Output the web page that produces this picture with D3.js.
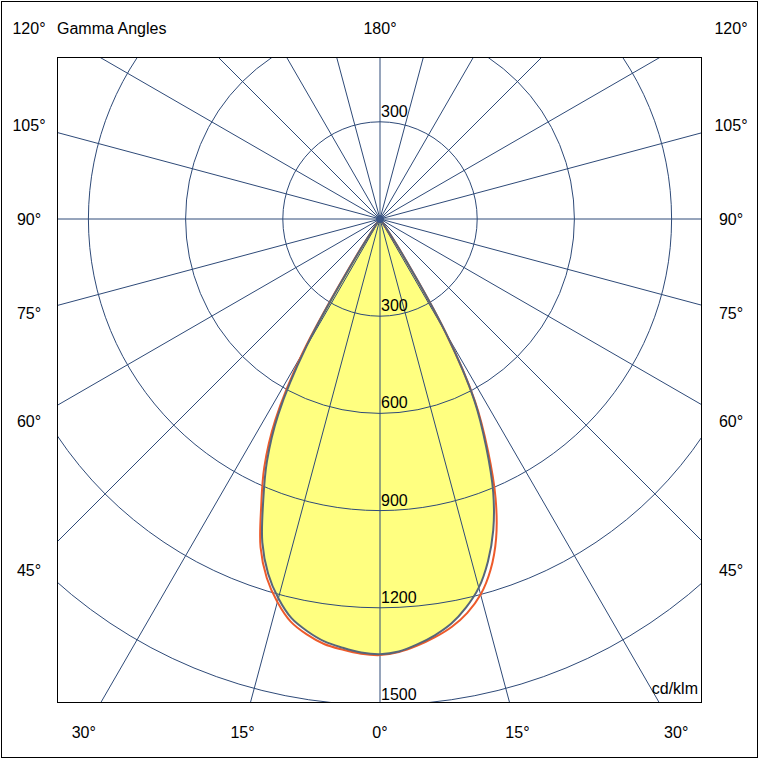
<!DOCTYPE html>
<html>
<head>
<meta charset="utf-8">
<script src="https://cdn.jsdelivr.net/npm/d3@7"></script>
<style>
	body { margin: 0; background: #fff; }
	text { font-family: "Liberation Sans", Arial, sans-serif; font-size: 16px; fill: #000; }
</style>
</head>
<body>
<svg id="chart"></svg>
<script>
// gamma angles (deg from nadir) and intensities in cd/klm per half-plane
const gammaAngles = [0, 2.5, 5, 7.5, 10, 12.5, 15, 17.5, 20, 22.5, 25, 27.5, 30, 32.5, 35, 37.5, 40, 45, 50, 60, 70, 80, 90];
const c0Values   = [1343, 1336, 1318, 1296, 1268, 1228, 1178, 1108, 1022, 913, 775, 630, 405, 120, 14, 4, 2, 1, 0, 0, 0, 0, 0];
const c180Values = [1343, 1339, 1328, 1315, 1292, 1262, 1212, 1148, 1062, 942, 826, 680, 455, 130, 14, 4, 2, 1, 0, 0, 0, 0, 0];
const c90Values  = [1345, 1338, 1322, 1302, 1278, 1245, 1200, 1135, 1048, 932, 788, 636, 408, 122, 14, 4, 2, 1, 0, 0, 0, 0, 0];
const c270Values = [1346, 1343, 1334, 1323, 1302, 1273, 1224, 1162, 1078, 958, 845, 700, 480, 150, 18, 5, 2, 1, 0, 0, 0, 0, 0];

const ringValues = [300, 600, 900, 1200, 1500, 1800];
const ringLabels = [300, 600, 900, 1200, 1500];
const spokeAngles = d3.range(0, 360, 15);
const sideLabelAngles = [0, 15, 30, 45, 60, 75, 90, 105, 120, 180];

function drawPolar(svgElement) {
	const W = 760, H = 761;
	const frame = { left: 57, top: 57, right: 702, bottom: 703 };
	const cx = 380, cy = 219;

	const r = d3.scaleLinear().domain([0, 1500]).range([0, 486]);
	const rad = d => d * Math.PI / 180;

	const svg = d3.select(svgElement)
		.attr("width", W)
		.attr("height", H);

	svg.append("rect")
		.attr("x", 1.5).attr("y", 1.5)
		.attr("width", 756).attr("height", 756)
		.attr("fill", "#fff")
		.attr("stroke", "#000");

	svg.append("clipPath")
		.attr("id", "frameClip")
		.append("rect")
		.attr("x", frame.left).attr("y", frame.top)
		.attr("width", frame.right - frame.left)
		.attr("height", frame.bottom - frame.top);

	const plot = svg.append("g").attr("clip-path", "url(#frameClip)");
	const g = plot.append("g").attr("transform", "translate(" + cx + "," + cy + ")");

	// build closed outline: left half (C180 / C270) then right half (C0 / C90)
	function outline(leftVals, rightVals) {
		const pts = [];
		for (let i = gammaAngles.length - 1; i >= 0; i--)
			pts.push([Math.PI + rad(gammaAngles[i]), r(leftVals[i])]);
		for (let i = 1; i < gammaAngles.length; i++)
			pts.push([Math.PI - rad(gammaAngles[i]), r(rightVals[i])]);
		return pts;
	}

	const radial = d3.lineRadial()
		.angle(d => d[0])
		.radius(d => d[1])
		.curve(d3.curveCatmullRom.alpha(0.5));

	const grayPts = outline(c180Values, c0Values);
	const orangePts = outline(c270Values, c90Values);

	g.append("path")
		.attr("d", radial(grayPts))
		.attr("fill", "#ffff80")
		.attr("stroke", "none");

	// grid
	g.selectAll(".ring")
		.data(ringValues)
		.enter().append("circle")
		.attr("r", d => r(d))
		.attr("fill", "none")
		.attr("stroke", "#2e4a78")
		.attr("stroke-width", 1);

	g.selectAll(".spoke")
		.data(spokeAngles)
		.enter().append("line")
		.attr("x1", 0).attr("y1", 0)
		.attr("x2", d => Math.sin(rad(d)) * 1000)
		.attr("y2", d => Math.cos(rad(d)) * 1000)
		.attr("stroke", "#2e4a78")
		.attr("stroke-width", 1);

	g.append("path")
		.attr("d", radial(orangePts))
		.attr("fill", "none")
		.attr("stroke", "#ee5a2a")
		.attr("stroke-width", 2);

	g.append("path")
		.attr("d", radial(grayPts))
		.attr("fill", "none")
		.attr("stroke", "#566679")
		.attr("stroke-width", 2);

	g.append("circle")
		.attr("r", 4)
		.attr("fill", "#3b5585");

	// ring labels
	g.selectAll(".ringLabel")
		.data(ringLabels)
		.enter().append("text")
		.attr("x", 1)
		.attr("y", d => r(d) - 5)
		.text(d => d);

	g.append("text")
		.attr("x", 1)
		.attr("y", -r(300) - 5)
		.text(300);

	svg.append("rect")
		.attr("x", frame.left + 0.5).attr("y", frame.top + 0.5)
		.attr("width", frame.right - frame.left - 1)
		.attr("height", frame.bottom - frame.top - 1)
		.attr("fill", "none")
		.attr("stroke", "#000");

	// gamma angle labels on an outer rectangle
	const lab = { left: 29, right: 731, top: 28, bottom: 732 };
	function labelPos(gm, side) {
		if (gm === 0) return [cx, lab.bottom];
		if (gm === 180) return [cx, lab.top];
		const dx = cx - lab.left;
		let y = cy + dx * Math.cos(rad(gm)) / Math.sin(rad(gm));
		if (y <= lab.bottom) return [cx + side * dx, Math.max(lab.top, y)];
		return [cx + side * (lab.bottom - cy) * Math.tan(rad(gm)), lab.bottom];
	}
	const labelData = [];
	sideLabelAngles.forEach(gm => {
		labelData.push({ gm: gm, p: labelPos(gm, -1) });
		if (gm !== 0 && gm !== 180) labelData.push({ gm: gm, p: labelPos(gm, 1) });
	});
	svg.selectAll(".gammaLabel")
		.data(labelData)
		.enter().append("text")
		.attr("x", d => d.p[0])
		.attr("y", d => d.p[1])
		.attr("dy", ".35em")
		.attr("text-anchor", "middle")
		.text(d => d.gm + "°");

	svg.append("text")
		.attr("x", 57)
		.attr("y", 28)
		.attr("dy", ".35em")
		.text("Gamma Angles");

	svg.append("text")
		.attr("x", 698)
		.attr("y", 694)
		.attr("text-anchor", "end")
		.text("cd/klm");
}

drawPolar(document.getElementById("chart"));
</script>
</body>
</html>
